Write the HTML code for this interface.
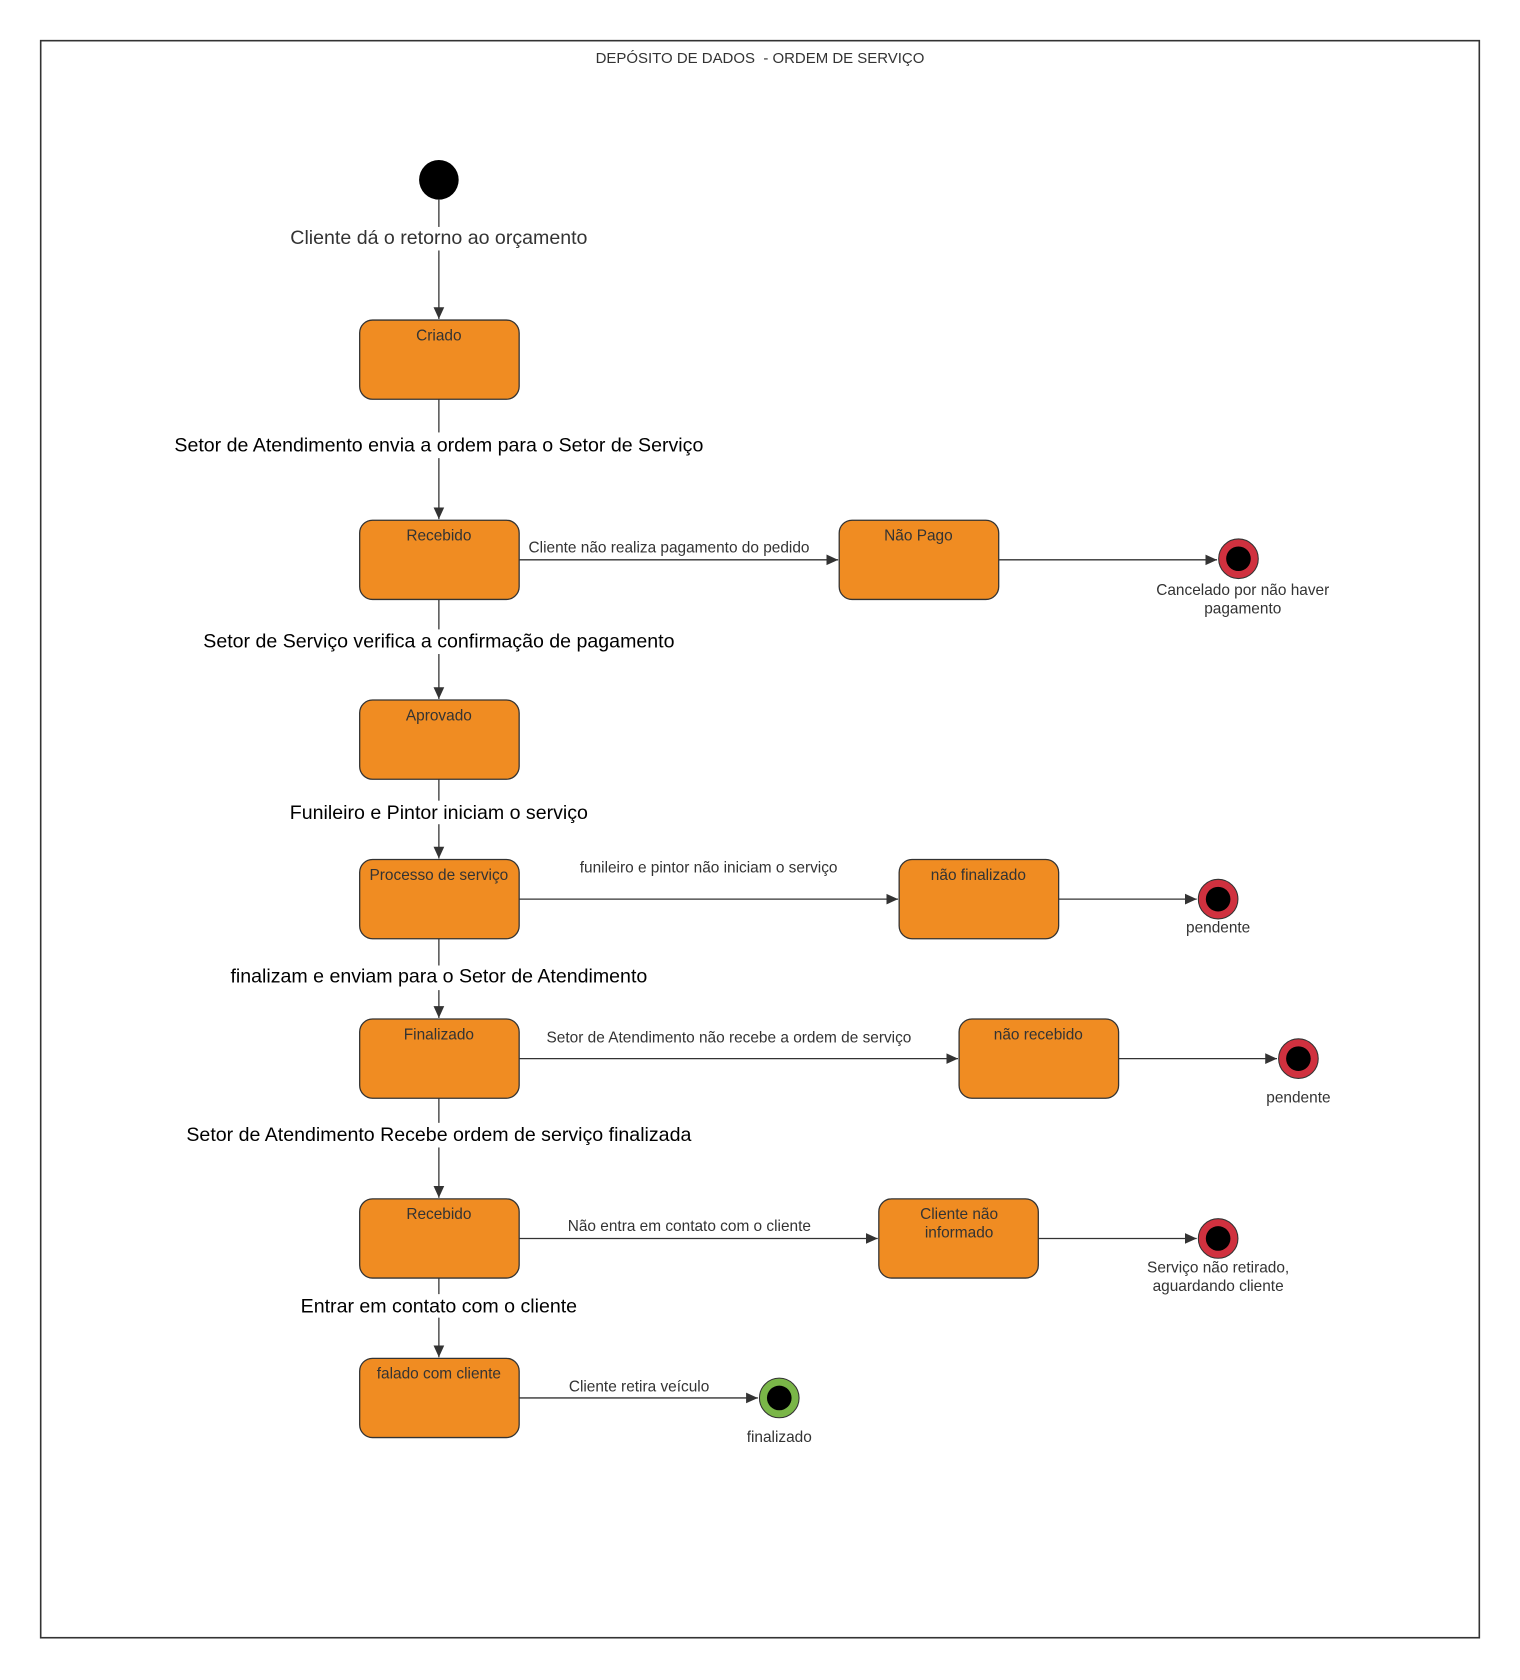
<!DOCTYPE html>
<html><head><meta charset="utf-8"><style>html,body{margin:0;padding:0;background:#fff}svg{display:block}</style></head><body>
<svg width="1520" height="1680" viewBox="0 0 1420 1569.5" xmlns="http://www.w3.org/2000/svg" font-family="Liberation Sans, sans-serif">
<defs><marker id="a" markerWidth="12" markerHeight="12" refX="11" refY="6" orient="auto" markerUnits="userSpaceOnUse"><path d="M0,1 L11,6 L0,11 Z" fill="#333"/></marker></defs>
<rect x="38" y="38" width="1344" height="1492" fill="#fff" stroke="#333" stroke-width="1.5"/>
<text x="710" y="59" font-size="14" text-anchor="middle" fill="#333" xml:space="preserve">DEPÓSITO DE DADOS  - ORDEM DE SERVIÇO</text>
<circle cx="410" cy="168" r="18.5" fill="#000"/>
<g stroke="#333" stroke-width="1.2" fill="none">
<line x1="410" y1="186" x2="410" y2="212"/><line x1="410" y1="234" x2="410" y2="298" marker-end="url(#a)"/>
<line x1="410" y1="373" x2="410" y2="404"/><line x1="410" y1="428" x2="410" y2="485" marker-end="url(#a)"/>
<line x1="410" y1="560" x2="410" y2="588"/><line x1="410" y1="611" x2="410" y2="653" marker-end="url(#a)"/>
<line x1="410" y1="728" x2="410" y2="748"/><line x1="410" y1="770" x2="410" y2="802" marker-end="url(#a)"/>
<line x1="410" y1="877" x2="410" y2="902"/><line x1="410" y1="925" x2="410" y2="951" marker-end="url(#a)"/>
<line x1="410" y1="1026" x2="410" y2="1049"/><line x1="410" y1="1072" x2="410" y2="1119" marker-end="url(#a)"/>
<line x1="410" y1="1194" x2="410" y2="1209"/><line x1="410" y1="1231" x2="410" y2="1268" marker-end="url(#a)"/>
<line x1="485" y1="523" x2="783" y2="523" marker-end="url(#a)"/>
<line x1="933" y1="523" x2="1137" y2="523" marker-end="url(#a)"/>
<line x1="485" y1="840" x2="839" y2="840" marker-end="url(#a)"/>
<line x1="989" y1="840" x2="1118" y2="840" marker-end="url(#a)"/>
<line x1="485" y1="989" x2="895" y2="989" marker-end="url(#a)"/>
<line x1="1045" y1="989" x2="1193" y2="989" marker-end="url(#a)"/>
<line x1="485" y1="1157" x2="820" y2="1157" marker-end="url(#a)"/>
<line x1="970" y1="1157" x2="1118" y2="1157" marker-end="url(#a)"/>
<line x1="485" y1="1306" x2="708" y2="1306" marker-end="url(#a)"/>
</g>
<g fill="#000" font-size="18.3" text-anchor="middle">
<text x="410" y="228" fill="#333">Cliente dá o retorno ao orçamento</text>
<text x="410" y="422">Setor de Atendimento envia a ordem para o Setor de Serviço</text>
<text x="410" y="605">Setor de Serviço verifica a confirmação de pagamento</text>
<text x="410" y="765">Funileiro e Pintor iniciam o serviço</text>
<text x="410" y="918">finalizam e enviam para o Setor de Atendimento</text>
<text x="410" y="1066">Setor de Atendimento Recebe ordem de serviço finalizada</text>
<text x="410" y="1226">Entrar em contato com o cliente</text>
</g>
<g fill="#f08c22" stroke="#333" stroke-width="1.2">
<rect x="336" y="299" width="149" height="74" rx="12"/>
<rect x="336" y="486" width="149" height="74" rx="12"/>
<rect x="336" y="654" width="149" height="74" rx="12"/>
<rect x="336" y="803" width="149" height="74" rx="12"/>
<rect x="336" y="952" width="149" height="74" rx="12"/>
<rect x="336" y="1120" width="149" height="74" rx="12"/>
<rect x="336" y="1269" width="149" height="74" rx="12"/>
<rect x="784" y="486" width="149" height="74" rx="12"/>
<rect x="840" y="803" width="149" height="74" rx="12"/>
<rect x="896" y="952" width="149" height="74" rx="12"/>
<rect x="821" y="1120" width="149" height="74" rx="12"/>
</g>
<g fill="#333" font-size="14.4" text-anchor="middle">
<text x="410" y="318">Criado</text>
<text x="410" y="505">Recebido</text>
<text x="410" y="673">Aprovado</text>
<text x="410" y="822">Processo de serviço</text>
<text x="410" y="971">Finalizado</text>
<text x="410" y="1139">Recebido</text>
<text x="410" y="1288">falado com cliente</text>
<text x="858" y="505">Não Pago</text>
<text x="914" y="822">não finalizado</text>
<text x="970" y="971">não recebido</text>
<text x="896" y="1139">Cliente não</text>
<text x="896" y="1156">informado</text>
<text x="625" y="516">Cliente não realiza pagamento do pedido</text>
<text x="662" y="815">funileiro e pintor não iniciam o serviço</text>
<text x="681" y="974">Setor de Atendimento não recebe a ordem de serviço</text>
<text x="644" y="1150">Não entra em contato com o cliente</text>
<text x="597" y="1300">Cliente retira veículo</text>
<text x="1161" y="556">Cancelado por não haver</text>
<text x="1161" y="573">pagamento</text>
<text x="1138" y="871">pendente</text>
<text x="1213" y="1030">pendente</text>
<text x="1138" y="1189">Serviço não retirado,</text>
<text x="1138" y="1206">aguardando cliente</text>
<text x="728" y="1347">finalizado</text>
</g>
<g stroke="#333" stroke-width="1">
<circle cx="1157" cy="522" r="18.5" fill="#d0313f"/>
<circle cx="1138" cy="840" r="18.5" fill="#d0313f"/>
<circle cx="1213" cy="989" r="18.5" fill="#d0313f"/>
<circle cx="1138" cy="1157" r="18.5" fill="#d0313f"/>
<circle cx="728" cy="1306" r="18.5" fill="#7ab648"/>
</g>
<g fill="#000">
<circle cx="1157" cy="522" r="11.5"/><circle cx="1138" cy="840" r="11.5"/><circle cx="1213" cy="989" r="11.5"/><circle cx="1138" cy="1157" r="11.5"/><circle cx="728" cy="1306" r="11.5"/>
</g>
</svg>
</body></html>
